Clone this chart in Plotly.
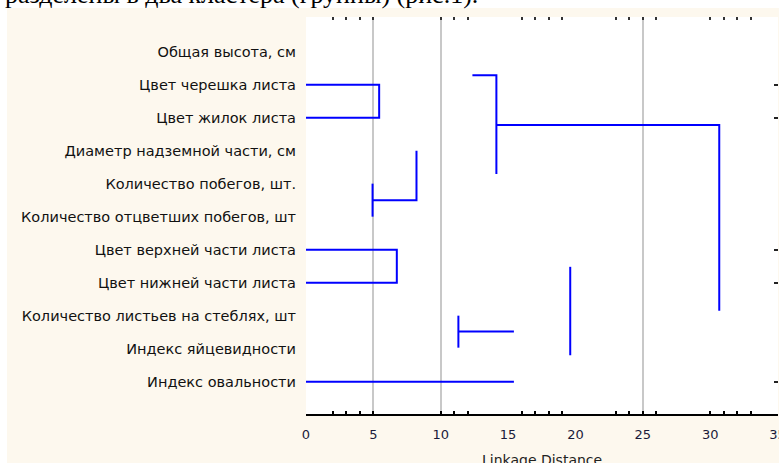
import plotly.graph_objects as go

# ---- data ----
variables = [
    "Общая высота, см",
    "Цвет черешка листа",
    "Цвет жилок листа",
    "Диаметр надземной части, см",
    "Количество побегов, шт.",
    "Количество отцветших побегов, шт",
    "Цвет верхней части листа",
    "Цвет нижней части листа",
    "Количество листьев на стеблях, шт",
    "Индекс яйцевидности",
    "Индекс овальности",
]
row_pos = list(range(1, len(variables) + 1))

# dendrogram branches as drawn: (linkage distance, row position) polylines
branch_dist = [
    [0, 5.43, 5.43, 0],
    [8.2, 8.2, 4.94],
    [4.94, 4.94],
    [0, 6.74, 6.74, 0],
    [12.35, 14.13, 14.13],
    [14.13, 30.67, 30.67],
    [11.31, 11.31],
    [11.31, 15.43],
    [19.61, 19.61],
    [0, 15.43],
]
branch_row = [
    [2, 2, 3, 3],
    [4.0, 5.5, 5.5],
    [5, 6],
    [7, 7, 8, 8],
    [1.715, 1.715, 4.71],
    [3.22, 3.22, 8.85],
    [9.0, 9.97],
    [9.48, 9.48],
    [7.52, 10.2],
    [11, 11],
]

x_ticks = [0, 5, 10, 15, 20, 25, 30, 35]
grid_vals = [5, 10, 25]
dot_vals = [2, 3, 4, 5, 10, 11, 12, 16, 17, 18, 19, 23, 24, 25, 26, 30, 31, 32, 33]
right_tick_rows = [2, 3, 7, 8, 11]
x_title = "Linkage Distance"
top_text = "разделены в два кластера (группы) (рис.1)."

# ---- figure ----
W, H = 779, 463
L, R, T, B = 306, 1, 17, 49
pw, ph = W - L - R, H - T - B

def px_x(p):
    return (p - L) / pw

def px_y(p):
    return (H - B - p) / ph

BLUE = "#0000FF"
BEIGE = "#FDF8EE"
FONT = "DejaVu Sans"

fig = go.Figure()
xs, ys = [], []
for dx, ry in zip(branch_dist, branch_row):
    xs += dx + [None]
    ys += ry + [None]
fig.add_trace(go.Scatter(x=xs, y=ys, mode="lines",
                         line=dict(color=BLUE, width=2),
                         hoverinfo="skip", showlegend=False))
# helper invisible traces so overlay axes are drawn
for xa, ya in [("x2", "y"), ("x3", "y"), ("x4", "y"), ("x", "y2")]:
    fig.add_trace(go.Scatter(x=[0], y=[0], xaxis=xa, yaxis=ya, mode="markers",
                             marker=dict(opacity=0), hoverinfo="skip",
                             showlegend=False))

xr = [0, 35.03]
yr = [11.98, -0.05]
common = dict(automargin=False, zeroline=False)
fig.update_layout(
    width=W, height=H,
    margin=dict(l=L, r=R, t=T, b=B, pad=0, autoexpand=False),
    paper_bgcolor=BEIGE,
    plot_bgcolor="white",
    font=dict(family=FONT, size=13, color="#111111"),
    xaxis=dict(range=xr, tickvals=x_ticks, ticks="", showgrid=False,
               showline=True, linecolor="black", linewidth=2,
               ticklabelstandoff=7, ticklabeloverflow="allow",
               tickfont=dict(family=FONT, size=13, color="#1a1a3a"), **common),
    xaxis2=dict(range=xr, overlaying="x", side="bottom", anchor="y",
                tickvals=dot_vals, ticks="inside", ticklen=3, tickwidth=2,
                tickcolor="black", showticklabels=False, showgrid=False,
                showline=False, **common),
    xaxis3=dict(range=xr, overlaying="x", side="top", anchor="y",
                tickvals=dot_vals, ticks="inside", ticklen=3, tickwidth=2,
                tickcolor="#333333", showticklabels=False, showgrid=False,
                showline=False, **common),
    xaxis4=dict(range=xr, overlaying="x", side="top", anchor="y",
                tickvals=grid_vals, ticks="", showticklabels=False,
                showgrid=True, gridcolor="#C8C8C8", gridwidth=2,
                showline=False, layer="below traces", **common),
    yaxis=dict(range=yr, tickvals=row_pos, ticktext=variables, ticks="",
               showgrid=False, showline=False, ticklabelstandoff=9,
               tickfont=dict(family=FONT, size=14.5, color="#111111"), **common),
    yaxis2=dict(range=yr, overlaying="y", side="right", anchor="x",
                tickvals=right_tick_rows, ticks="inside", ticklen=4,
                tickwidth=2, tickcolor="#222222", showticklabels=False,
                showgrid=False, showline=False, **common),
    shapes=[
        dict(type="rect", xref="paper", yref="paper", layer="below",
             x0=px_x(-5), x1=px_x(7), y0=px_y(H + 5), y1=px_y(-5),
             fillcolor="white", line=dict(width=0)),
        dict(type="rect", xref="paper", yref="paper", layer="below",
             x0=px_x(-5), x1=px_x(W + 5), y0=px_y(8), y1=px_y(-5),
             fillcolor="white", line=dict(width=0)),
    ],
    annotations=[
        dict(text=top_text, xref="paper", yref="paper",
             x=px_x(480), y=px_y(11), xanchor="right", yanchor="bottom",
             showarrow=False,
             font=dict(family="Liberation Serif", size=26, color="black")),
        dict(text=x_title, xref="paper", yref="paper",
             x=0.5, y=px_y(460), xanchor="center", yanchor="middle",
             showarrow=False,
             font=dict(family=FONT, size=14, color="#222222")),
    ],
)

fig.write_html(
    "out.html",
    config={"displayModeBar": False},
    post_script="document.body.style.margin='0';document.body.style.overflow='hidden';",
)
